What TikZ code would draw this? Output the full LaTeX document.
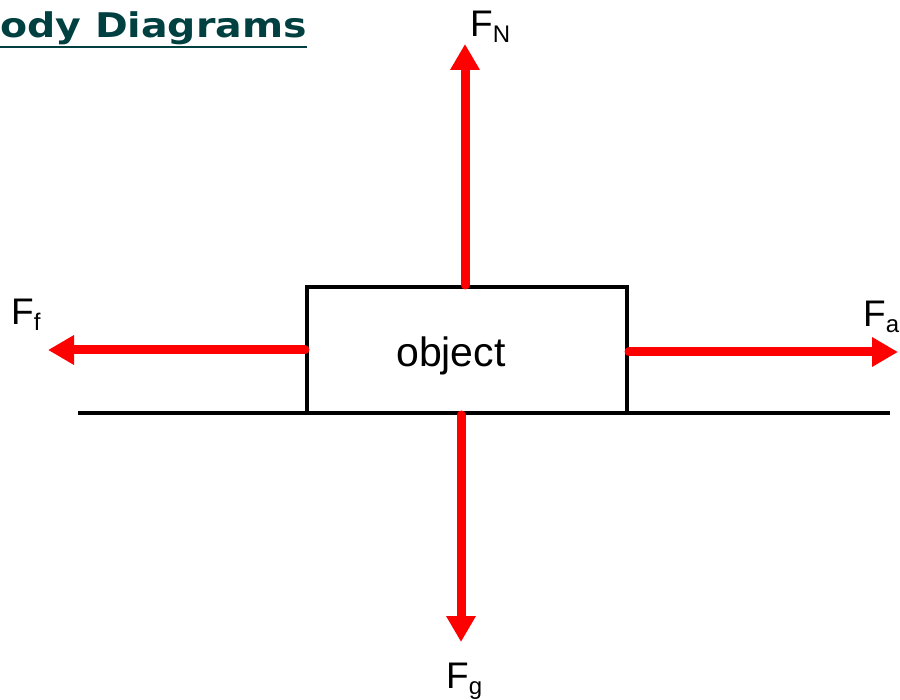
\documentclass[tikz,border=0pt]{standalone}
\usepackage{fontspec}
\setmainfont{Liberation Sans}
\newfontfamily\titlefont{DejaVu Sans}
\usetikzlibrary{arrows.meta}
\definecolor{titleteal}{RGB}{0,64,64}
\definecolor{forcered}{RGB}{255,0,0}
\tikzset{
  force/.style={draw=forcered, line width=9pt, line cap=round, -{Triangle[length=26pt,width=28pt]}},
  flabel/.style={inner sep=0pt, anchor=base west, font=\fontsize{37}{37}\selectfont},
  objbox/.style={draw=black, line width=4pt, minimum width=320pt, minimum height=126pt, inner sep=0pt},
}
\newcommand{\subf}[1]{\raisebox{-6pt}{\fontsize{24}{24}\selectfont #1}}
\begin{document}
\begin{tikzpicture}[x=1pt,y=-1pt]
\useasboundingbox[fill=white] (0,0) rectangle (900,700);
% title
\node[inner sep=0pt, anchor=base west, text=titleteal, font=\titlefont\bfseries\fontsize{34}{34}\selectfont, xscale=1.16] (title) at (0,38) {ody Diagrams};
\draw[titleteal, line width=2pt] ([yshift=-9.5pt]title.base west) -- ([yshift=-9.5pt]title.base east);
% ground
\coordinate (gl) at (78,413);
\coordinate (gr) at (890,413);
\draw[line width=4pt] (gl) -- (gr);
% object
\node[objbox] (obj) at (467,350) {};
\node[inner sep=0pt, anchor=base west, font=\fontsize{41}{41}\selectfont] (objtxt) at (396,367) {object};
% arrow tips
\coordinate (tn) at (465,44);
\coordinate (tf) at (48,350);
\coordinate (ta) at (898,352);
\coordinate (tg) at (461,642);
\draw[force] (obj.north -| tn) -- (tn);
\draw[force] (obj.west |- tf) -- (tf);
\draw[force] (obj.east |- ta) -- (ta);
\draw[force] (obj.south -| tg) -- (tg);
% labels
\node[flabel] (lN) at (470,37) {F\subf{N}};
\node[flabel] (lf) at (11,325) {F\subf{f}};
\node[flabel] (la) at (863,327) {F\subf{a}};
\node[flabel] (lg) at (446,688) {F\subf{g}};
\end{tikzpicture}
\end{document}
